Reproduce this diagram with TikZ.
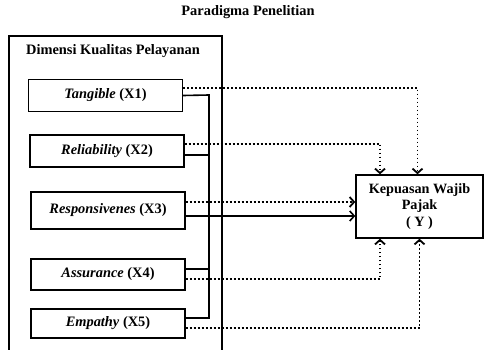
\documentclass[tikz,border=0pt]{standalone}
\usepackage{fontspec}
\setmainfont{Liberation Serif}
\usetikzlibrary{arrows.meta,positioning}

\begin{document}
\begin{tikzpicture}[x=1pt,y=-1pt,>={Straight Barb[length=4.5pt,width=10pt]},
    dim box/.style={draw,line width=1.4pt,minimum width=154pt,minimum height=32pt,inner sep=0pt,font=\bfseries\fontsize{14.4}{16.5}\selectfont},
    solid line/.style={line width=1.6pt},
    dot line/.style={line width=1.8pt,dash pattern=on 1.8pt off 2.2pt}]

    \useasboundingbox (0,0) rectangle (484,350);

    \node[font=\bfseries\fontsize{14.4}{16.5}\selectfont] (title) at (248,12.5) {Paradigma Penelitian};

    % frame of the dimensions
    \draw[line width=1.3pt] (9,352) -- (9,36) -- (222,36) -- (222,352);
    \node[font=\bfseries\fontsize{14.4}{16.5}\selectfont] (dim) at (113,51) {Dimensi Kualitas Pelayanan};

    \node[dim box] (x1) at (105.5,95.5) {\textit{Tangible} (X1)};
    \node[dim box] (x2) at (107,151) {\textit{Reliability} (X2)};
    \node[dim box,minimum height=37pt] (x3) at (108,210.5) {\textit{Responsivenes} (X3)};
    \node[dim box,minimum height=31pt] (x4) at (108,274.5) {\textit{Assurance} (X4)};
    \node[dim box,minimum height=29pt] (x5) at (108,323.5) {\textit{Empathy} (X5)};

    \node[draw,line width=1.4pt,minimum width=127pt,minimum height=63pt,align=center,
          font=\bfseries\fontsize{14.2}{16.5}\selectfont] (y) at (419.5,206.5) {Kepuasan Wajib\\Pajak\\( Y )};

    % joint line
    \coordinate (bt) at (209,95);
    \coordinate (bb) at (209,318);
    \draw[solid line] (x1.east) -- (bt) -- (bb) -- ([yshift=5.5pt]x5.east);
    \draw[solid line] ([yshift=-4pt]x2.east) -- ([yshift=-4pt]x2.east -| bt);
    \draw[solid line] ([yshift=5.5pt]x4.east) -- ([yshift=5.5pt]x4.east -| bt);
    \draw[solid line,->] ([yshift=-5.5pt]x3.east) coordinate (s3) -- (s3 -| y.west);

    % partial links
    \draw[dot line,->] ([yshift=7.5pt]x1.east) -| ([xshift=-2pt]y.north);
    \draw[dot line,->] ([yshift=7pt]x2.east) -| ([xshift=-39.5pt]y.north);
    \draw[dot line,->] ([yshift=8.5pt]x3.east) coordinate (d3) -- (d3 -| y.west);
    \draw[dot line,->] ([yshift=-4.5pt]x4.east) -| ([xshift=-39.5pt]y.south);
    \draw[dot line,->] ([yshift=-4.5pt]x5.east) -| ([xshift=0pt]y.south);

\end{tikzpicture}
\end{document}
